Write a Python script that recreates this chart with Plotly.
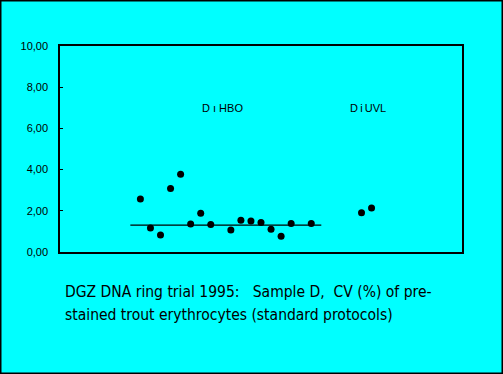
import plotly.graph_objects as go

# Data
lab_hbo = [8, 9, 10, 11, 12, 13, 14, 15, 17, 18, 19, 20, 21, 22, 23, 25]
cv_hbo = [2.57, 1.17, 0.83, 3.08, 3.78, 1.36, 1.88, 1.33, 1.07, 1.54, 1.50, 1.43, 1.11, 0.76, 1.38, 1.38]
lab_uvl = [30, 31]
cv_uvl = [1.91, 2.14]
ref_x = [7, 26]
ref_y = [1.30, 1.30]
y_ticks = [0, 2, 4, 6, 8, 10]
group_labels = ["D ı HBO", "D\u2009i\u2009UVL"]
group_label_x = [16.2, 30.6]
group_label_y = [7.0, 7.0]
caption = ["DGZ DNA ring trial 1995:   Sample D,  CV (%) of pre-",
           "stained trout erythrocytes (standard protocols)"]

W, H = 503, 374
L, R, T, B = 60, 41, 46, 122
pw, ph = W - L - R, H - T - B

fig = go.Figure()
fig.add_trace(go.Scatter(x=ref_x, y=ref_y, mode="lines",
                         line=dict(color="black", width=1.3), showlegend=False))
fig.add_trace(go.Scatter(x=lab_hbo, y=cv_hbo, mode="markers",
                         marker=dict(color="black", size=7, symbol="circle"), showlegend=False))
fig.add_trace(go.Scatter(x=lab_uvl, y=cv_uvl, mode="markers",
                         marker=dict(color="black", size=7, symbol="circle"), showlegend=False))

for t, x, y in zip(group_labels, group_label_x, group_label_y):
    fig.add_annotation(x=x, y=y, text=t, showarrow=False,
                       font=dict(family="Liberation Sans", size=11, color="black"))

for i, line in enumerate(caption):
    fig.add_annotation(xref="paper", yref="paper",
                       x=(63 - L) / pw, y=-(291.7 + i * 23.3 - (T + ph)) / ph,
                       xanchor="left", yanchor="middle", text=line, showarrow=False,
                       font=dict(family="DejaVu Sans Condensed", size=15.5, color="black"))

# outer border of the image
fig.add_shape(type="rect", xref="paper", yref="paper",
              x0=(0.75 - L) / pw, x1=(W - 0.75 - L) / pw,
              y0=-(H - 0.75 - T - ph) / ph, y1=1 + (T - 0.75) / ph,
              line=dict(color="black", width=1.5))

fig.update_layout(
    width=W, height=H,
    margin=dict(l=L, r=R, t=T, b=B, autoexpand=False),
    paper_bgcolor="#00FFFF", plot_bgcolor="#00FFFF",
    separators=",.",
    xaxis=dict(range=[0, 40], showgrid=False, zeroline=False, showticklabels=False,
               automargin=False,
               ticks="", showline=True, mirror=True, linecolor="black", linewidth=1.5),
    yaxis=dict(range=[0, 10], tickvals=y_ticks, tickformat=".2f", showgrid=False,
               automargin=False,
               zeroline=False, ticks="inside", ticklen=3, tickcolor="black",
               showline=True, mirror=True, linecolor="black", linewidth=1.5,
               ticklabelstandoff=8,
               tickfont=dict(family="Liberation Sans", size=11, color="black")),
)

fig.write_html("out.html", config={"displayModeBar": False},
               post_script="document.body.style.margin='0';document.body.style.overflow='hidden';")
